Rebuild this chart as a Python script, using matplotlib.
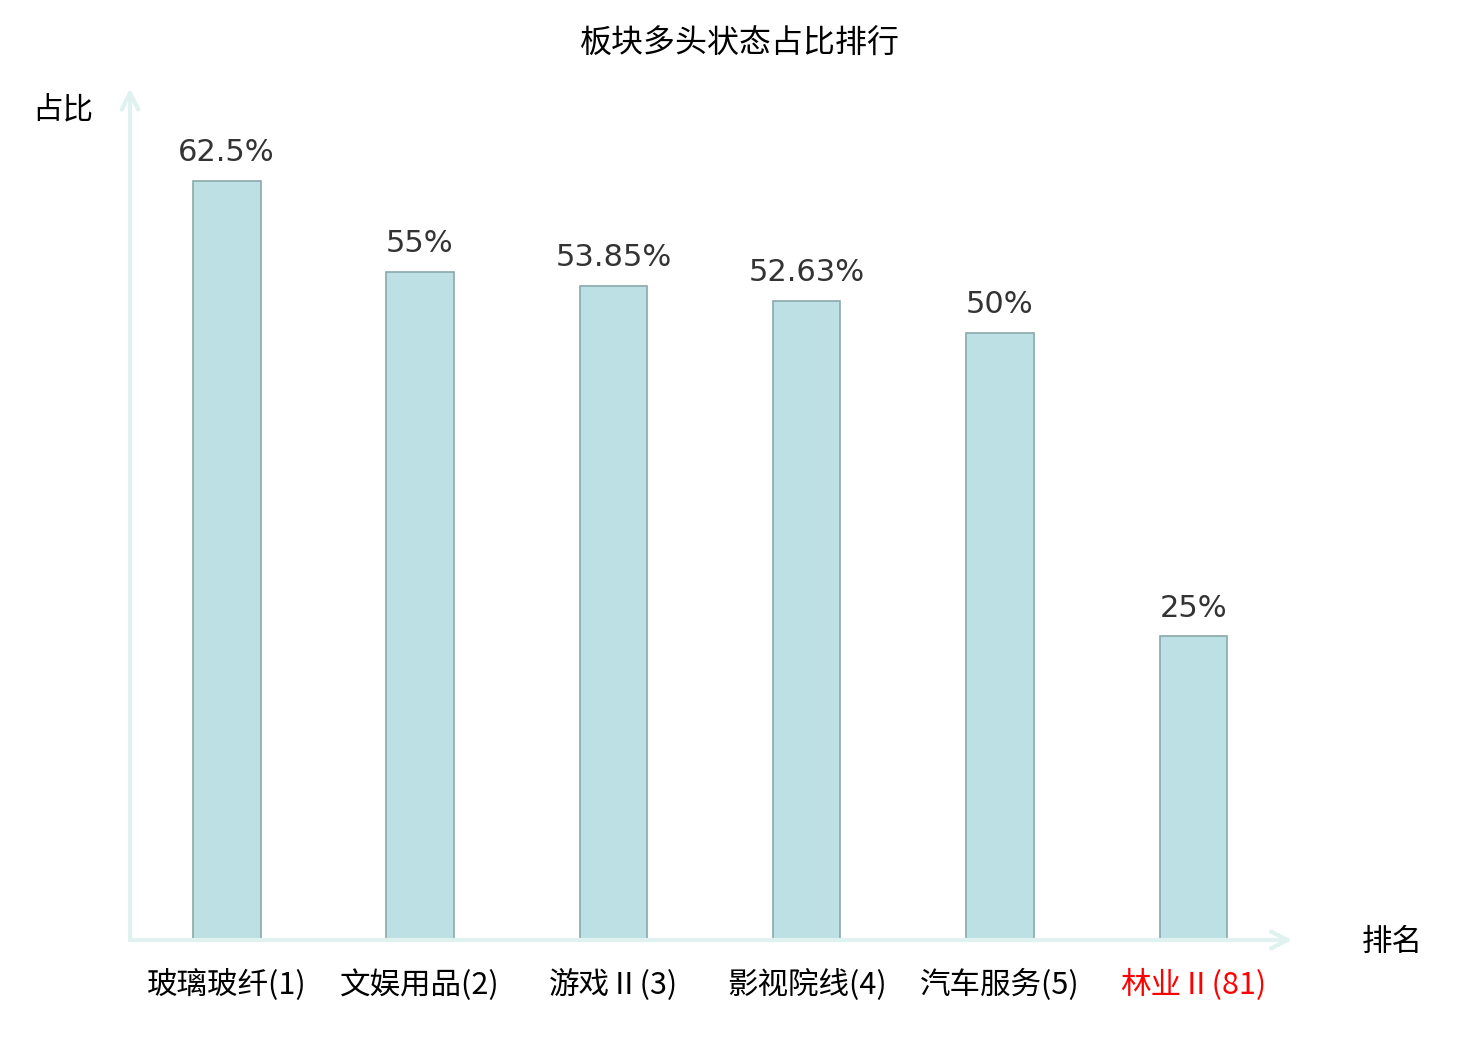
import matplotlib as mpl
mpl.use('Agg')
import matplotlib.pyplot as plt
import numpy as np

plt.rcParams['font.family'] = ['Noto Sans CJK SC', 'DejaVu Sans']

# data
sectors = ['玻璃玻纤(1)', '文娱用品(2)', '游戏Ⅱ(3)', '影视院线(4)', '汽车服务(5)', '林业Ⅱ(81)']
ratios = [62.5, 55, 53.85, 52.63, 50, 25]
ratio_labels = ['62.5%', '55%', '53.85%', '52.63%', '50%', '25%']
label_colors = ['black', 'black', 'black', 'black', 'black', '#ff0000']

fig = plt.figure(figsize=(14.8, 10.4), dpi=100)
ax = fig.add_axes([130/1480, 100/1040, 1160/1480, 850/1040])

x = np.arange(len(sectors))
ax.bar(x, ratios, width=0.35, color='#bce0e3', edgecolor='#8aa9aa', linewidth=1.2, zorder=2)

for xi, v, lab in zip(x, ratios, ratio_labels):
    ax.annotate(lab, (xi, v), xytext=(0, 10), textcoords='offset points',
                ha='center', va='bottom', fontsize=22, color='#333333',
                family='DejaVu Sans')

ax.set_xlim(-0.5, 5.5)
ax.set_ylim(0, 70)
for s in ax.spines.values():
    s.set_visible(False)
ax.set_yticks([])
ax.set_xticks(x)
ax.set_xticklabels(sectors, fontsize=22)
ax.tick_params(axis='x', length=0, pad=21)
for t, c in zip(ax.get_xticklabels(), label_colors):
    t.set_color(c)

# axis arrows
arrow_col = '#dff2ef'
ax.annotate('', xy=(1.002, 0), xytext=(0, 0), xycoords='axes fraction',
            arrowprops=dict(arrowstyle='->', color=arrow_col, lw=3, mutation_scale=30,
                            shrinkA=0, shrinkB=0),
            annotation_clip=False)
ax.annotate('', xy=(0, 1.002), xytext=(0, 0), xycoords='axes fraction',
            arrowprops=dict(arrowstyle='->', color=arrow_col, lw=3, mutation_scale=30,
                            shrinkA=0, shrinkB=0),
            annotation_clip=False)

fig.text(63/1480, 1 - 110/1040, '占比', ha='center', va='center', fontsize=22)
fig.text(1392/1480, 1 - 942/1040, '排名', ha='center', va='center', fontsize=22)
fig.text(0.5, 1 - 44/1040, '板块多头状态占比排行', ha='center', va='center', fontsize=23)

fig.savefig('out.png', dpi=100)
